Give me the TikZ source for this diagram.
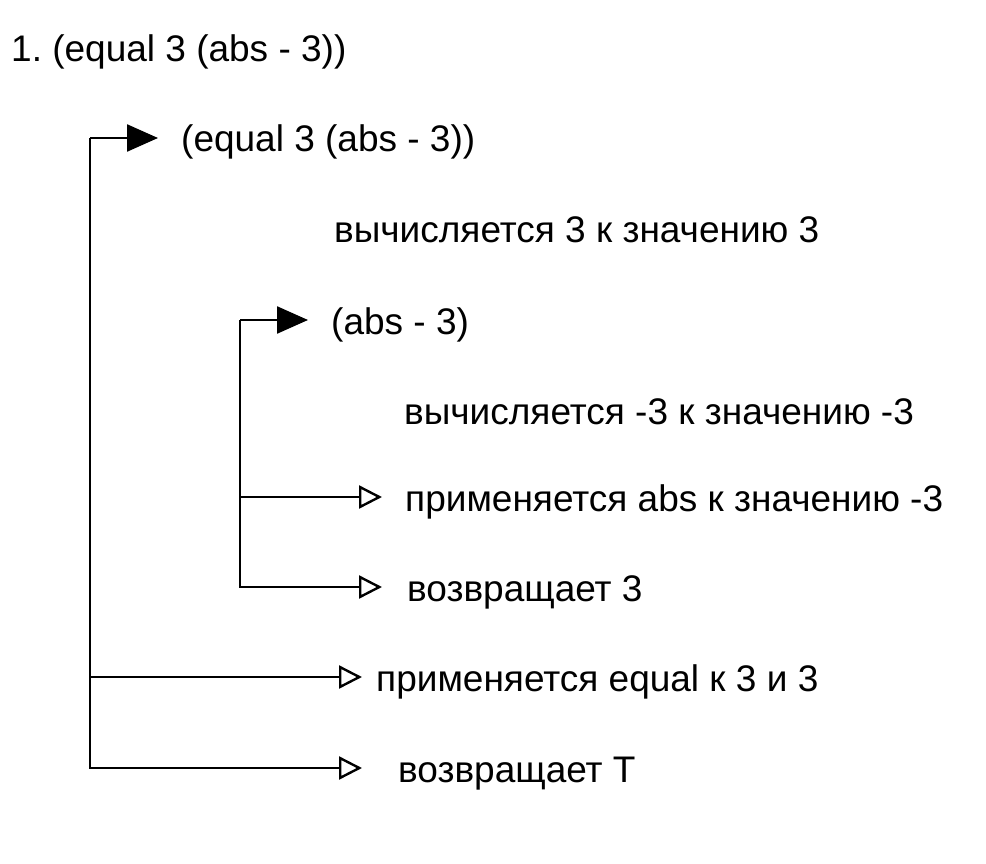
\documentclass[tikz,border=0pt]{standalone}
\usepackage{fontspec}
\setmainfont{Liberation Sans}
\usetikzlibrary{arrows.meta, positioning}
\frenchspacing
\tikzset{
  trace/.style={
	x=1pt, y=-1pt, % one unit is one pixel of the sketch
	line width=2.4pt,
	line join=miter,
	font=\fontsize{37}{44}\selectfont,
  },
  txt/.style={anchor=west, inner sep=0pt, text height=28pt, text depth=0pt}, % text lines, west anchor on the arrow
  call/.style={-{Triangle[length=31pt,width=27pt]}}, % a form is evaluated
  back/.style={-{Triangle[open,length=23pt,width=23pt]}}, % apply / return
}
\begin{document}
\begin{tikzpicture}[trace]
	\fill[white] (0,0) rectangle (986,864);

	\node[txt] (title) at (10,48) {1. (equal 3 (abs - 3))};

	% outer form
	\coordinate (s1) at (90,138);
	\node[txt, inner xsep=22pt, xshift=-22pt] (eq) at (180,138) {(equal 3 (abs - 3))};
	\node[txt] (val3) at (333,229) {вычисляется 3 к значению 3};

	% inner form
	\coordinate (s2) at (240,320);
	\node[txt, inner xsep=22pt, xshift=-22pt] (abs) at (330,320) {(abs - 3)};
	\node[txt] (valm3) at (403,410) {вычисляется -3 к значению -3};
	\node[txt, inner xsep=22pt, xshift=-22pt] (appabs) at (404,497) {применяется abs к значению -3};
	\node[txt, inner xsep=24pt, xshift=-24pt] (ret3) at (406,587) {возвращает 3};

	% back to the outer form
	\node[txt, inner xsep=13pt, xshift=-13pt] (appeq) at (375,677) {применяется equal к 3 и 3};
	\node[txt, inner xsep=35pt, xshift=-35pt] (retT) at (397,768) {возвращает T};

	\draw[call] (s1) -- (eq.west);
	\draw[call] (s2) -- (abs.west);
	\draw[back] (s2) |- (appabs.west);
	\draw[back] (s2) |- (ret3.west);
	\draw[back] (s1) |- (appeq.west);
	\draw[back] (s1) |- (retT.west);
\end{tikzpicture}
\end{document}
